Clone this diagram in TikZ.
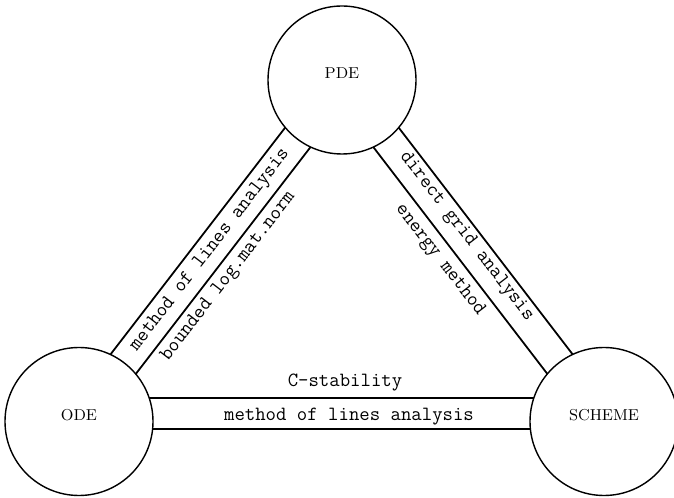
\documentclass[tikz,border=0pt]{standalone}
\usepackage{amsmath,amssymb}
\usepackage{tikz}
\usetikzlibrary{backgrounds}

\begin{document}
\begin{tikzpicture}[
		eqbox/.style={draw,circle,fill=white,line width=0.8pt,minimum size=2.96cm,inner sep=0pt,text depth=0.28cm,font=\fontsize{9}{10}\selectfont},
		link/.style={line width=1.1pt,double=white,double distance=17pt},
		tag/.style={font=\fontsize{11.5}{13}\selectfont\ttfamily,inner sep=0pt}]
		\useasboundingbox (0,0) rectangle (13.48,9.96);

		\node[eqbox] (pde) at (6.84,8.36) {PDE};
		\node[eqbox] (ode) at (1.58,1.53) {ODE};
		\node[eqbox] (scheme) at (12.08,1.53) {SCHEME};

		\begin{pgfonlayer}{background}
		\draw[link] (ode.center) -- (pde.center);
		\draw[link] (pde.center) -- (scheme.center);
		\draw[link] ([yshift=0.16cm]ode.center) -- ([yshift=0.16cm]scheme.center);
		\end{pgfonlayer}

		\node[tag,rotate=52.4] (molleft) at (4.20,4.96) {method of lines analysis};
		\node[tag,rotate=52.4] (lognorm) at (4.57,4.43) {bounded log.mat.norm};

		\node[tag,rotate=-52.4] (gridan) at (9.33,5.23) {direct grid analysis};
		\node[tag,rotate=-52.4] (energy) at (8.80,4.76) {energy method};

		\node[tag,anchor=base] (cstab) at (6.90,2.23) {C-stability};
		\node[tag,anchor=base] (molbottom) at (6.98,1.55) {method of lines analysis};

	\end{tikzpicture}
\end{document}
